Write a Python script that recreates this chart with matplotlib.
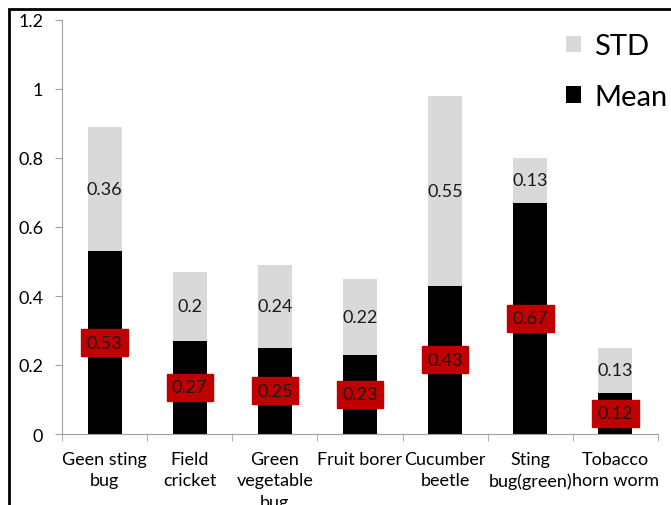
import matplotlib
matplotlib.use("Agg")
import matplotlib.pyplot as plt
from matplotlib.patches import Rectangle
import numpy as np

categories = ["Geen sting\nbug", "Field\ncricket", "Green\nvegetable\nbug", "Fruit borer",
              "Cucumber\nbeetle", "Sting\nbug(green)", "Tobacco\nhorn worm"]
mean_vals = [0.53, 0.27, 0.25, 0.23, 0.43, 0.67, 0.12]
std_vals = [0.36, 0.2, 0.24, 0.22, 0.55, 0.13, 0.13]
yticks = [0, 0.2, 0.4, 0.6, 0.8, 1, 1.2]
ytick_labels = ["0", "0.2", "0.4", "0.6", "0.8", "1", "1.2"]

plt.rcParams['font.family'] = ['Lato', 'DejaVu Sans']

fig = plt.figure(figsize=(6.71, 5.06), dpi=100)
ax = fig.add_axes([62/671, 1-435/506, (658-62)/671, (435-21)/506])

x = np.arange(len(categories))
w = 0.4
ax.bar(x, mean_vals, w, color="black", label="Mean", zorder=2)
ax.bar(x, std_vals, w, bottom=mean_vals, color="#d9d9d9", label="STD", zorder=2)

for xi, m, s in zip(x, mean_vals, std_vals):
    ax.text(xi, m/2, f"{m:g}", ha="center", va="center", fontsize=13, color="#1a1a1a",
            bbox=dict(boxstyle="square,pad=0.3", fc="#c00000", ec="#c00000"), zorder=3)
    ax.text(xi, m + s/2, f"{s:g}", ha="center", va="center", fontsize=13, color="#1a1a1a", zorder=3)

ax.set_xlim(-0.5, len(categories) - 0.5)
ax.set_ylim(0, 1.2)
ax.set_yticks(yticks)
ax.set_yticklabels(ytick_labels, fontsize=13)
ax.set_xticks(x)
ax.set_xticklabels(categories, fontsize=13, va="top", linespacing=1.42)
ax.tick_params(axis="x", length=0, pad=12)
ax.set_xticks(np.arange(len(categories) + 1) - 0.5, minor=True)
ax.tick_params(axis="x", which="minor", length=5, color="#a0a0a0")
ax.tick_params(axis="y", length=5, color="#a0a0a0", pad=8.5)
for sp in ["top", "right"]:
    ax.spines[sp].set_visible(False)
for sp in ["left", "bottom"]:
    ax.spines[sp].set_color("#a0a0a0")

handles, labels = ax.get_legend_handles_labels()
leg = fig.legend(handles[::-1], labels[::-1], loc="upper left", bbox_to_anchor=(540/671, 1-8/506),
                 frameon=False, fontsize=21, handlelength=0.5, handleheight=0.5,
                 handletextpad=0.45, labelspacing=0.85)

fig.patches.append(Rectangle((9/671, -0.2), 2.0, 1.2 - 10/506, transform=fig.transFigure,
                             fill=False, ec="black", lw=2, zorder=10))

fig.savefig("out.png", dpi=100)
